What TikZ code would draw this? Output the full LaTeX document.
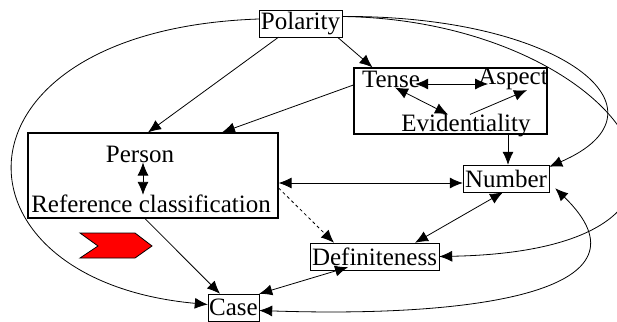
\documentclass[tikz,border=0pt]{standalone}
\usepackage{fontspec}
\setmainfont{Liberation Serif}
\usetikzlibrary{arrows.meta}
\tikzset{
	thinbox/.style={draw=black, thin, rectangle, inner sep=0pt},
	bigbox/.style={draw=black, line width=1.2pt, rectangle, inner sep=0pt},
	word/.style={inner sep=0pt},
	link/.style={draw=black, line width=0.8pt, -{Latex[length=13pt,width=11pt]}},
	twolink/.style={draw=black, line width=0.8pt, {Latex[length=13pt,width=11pt]}-{Latex[length=13pt,width=11pt]}}
}
\begin{document}
\begin{tikzpicture}[x=1pt, y=-1pt, font=\fontsize{25}{29}\selectfont]
	\useasboundingbox (0,0) rectangle (617,321);
	% boxes
	\node[thinbox, minimum width=83pt, minimum height=27pt] (pol) at (300.5,23.5) {Polarity};
	\node[bigbox, minimum width=193pt, minimum height=66pt] (tae) at (450.5,101) {};
	\node[bigbox, minimum width=250pt, minimum height=85pt] (per) at (153,175.5) {};
	\node[thinbox, minimum width=86pt, minimum height=27pt] (num) at (506,178.5) {Number};
	\node[thinbox, minimum width=129pt, minimum height=27pt] (def) at (374.5,256.5) {Definiteness};
	\node[thinbox, minimum width=51pt, minimum height=27pt] (case) at (233.5,307.5) {Case};
	% texts in the big boxes
	\node[word] (tense) at (391,79) {Tense};
	\node[word] (aspect) at (513,79) {Aspect};
	\node[word] (evid) at (466,126) {Evidentiality};
	\node[word] (person) at (140,154) {Person};
	\node[word] (ref) at (151,204) {Reference classification};
	% straight links
	\draw[link] ([xshift=-22pt]pol.south) -- ([xshift=-5pt]per.north);
	\draw[link] ([xshift=37pt]pol.south) -- ([xshift=-78pt]tae.north);
	\draw[link] ([yshift=16pt]tae.west) -- ([xshift=69pt]per.north);
	\draw[link] ([xshift=57.5pt]tae.south) -- ([xshift=2pt]num.north);
	\draw[twolink] ([yshift=-7.5pt]per.east) -- ([yshift=-4.5pt]num.west);
	\draw[link, dashed] ([yshift=-12.5pt]per.east) -- ([xshift=-40.5pt]def.north);
	\draw[link] ([xshift=-8pt]per.south) -- ([xshift=-13.5pt]case.north);
	\draw[twolink] ([xshift=-3pt]num.south) -- ([xshift=40.5pt]def.north);
	\draw[twolink] ([xshift=-26.5pt,yshift=3pt]def.south) -- (case.north east);
	% inside the boxes
	\draw[twolink] ([xshift=-5pt,yshift=-5pt]tense.east) -- ([xshift=10pt,yshift=-5pt]aspect.west);
	\draw[twolink] ([xshift=4pt]tense.south) -- ([xshift=-18pt]evid.north);
	\draw[link] ([xshift=4pt]evid.north) -- ([xshift=14pt]aspect.south);
	\draw[twolink] ([xshift=3pt]person.south) -- ([xshift=-8pt]ref.north);
	% curved links
	\draw[link] ([yshift=4.5pt]pol.west) .. controls (-60,30) and (-60,280) .. ([yshift=3pt]case.west);
	\draw[link] ([yshift=7pt]pol.east) .. controls (560,15) and (680,110) .. ([yshift=-2pt]num.north east);
	\draw[link] ([yshift=7pt]pol.east) .. controls (620,20) and (780,250) .. (def.east);
	\draw[twolink] ([yshift=-3pt]case.east) .. controls (480,318) and (660,290) .. ([xshift=6pt,yshift=4pt]num.south east);
	% red mark
	\draw[fill=red, draw=black, line width=0.8pt] (80,233) -- (135,233) -- (152,246) -- (135,258) -- (80,258) -- (98,246) -- cycle;
\end{tikzpicture}
\end{document}
